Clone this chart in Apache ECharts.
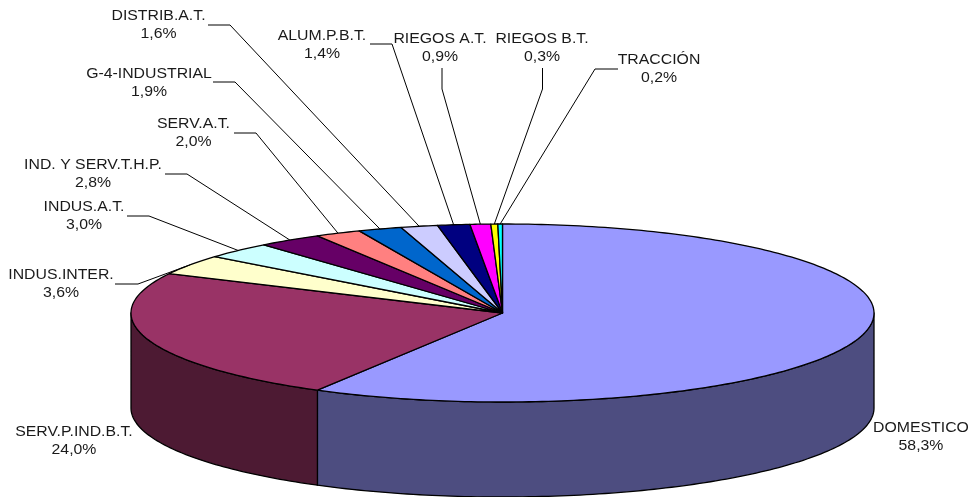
<!DOCTYPE html>
<html><head><meta charset="utf-8">
<style>html,body{margin:0;padding:0;background:#fff}#c{width:972px;height:497px}</style>
<script src="https://cdn.jsdelivr.net/npm/echarts@6/dist/echarts.min.js"></script>
</head><body><div id="c"></div>
<script>
const categories = ['DOMESTICO','SERV.P.IND.B.T.','INDUS.INTER.','INDUS.A.T.','IND. Y SERV.T.H.P.','SERV.A.T.','G-4-INDUSTRIAL','DISTRIB.A.T.','ALUM.P.B.T.','RIEGOS A.T.','RIEGOS B.T.','TRACCIÓN'];
const shares = [58.3,24.0,3.6,3.0,2.8,2.0,1.9,1.6,1.4,0.9,0.3,0.2];
const topColors = ['#9999FF','#993366','#FFFFCC','#CCFFFF','#660066','#FF8080','#0066CC','#CCCCFF','#000080','#FF00FF','#FFFF00','#00FFFF'];
const sideColors = ['#4D4D80','#4D1A33','#80806A','#6A8080','#330033','#804040','#003366','#6A6A80','#000040','#800080','#808000','#008080'];
// label centre [x,y of the two-line block], and the elbow polyline of the leader (null = none)
const labelLayout = [
  {x:921,y:437,leader:null},
  {x:74,y:441,leader:null},
  {x:61,y:284,leader:[[115,284],[138,284]]},
  {x:84,y:216,leader:[[127,216],[149,216]]},
  {x:93,y:174,leader:[[165,174],[187,174]]},
  {x:193.5,y:133.5,leader:[[234,133],[256,133]]},
  {x:149,y:83,leader:[[213,82],[235,82]]},
  {x:158.5,y:25.5,leader:[[208,25],[230,25]]},
  {x:322,y:45,leader:[[370,44],[392,44]]},
  {x:440,y:48,leader:[[442,68],[442,89]]},
  {x:542,y:48,leader:[[542.5,68],[542.5,89]]},
  {x:659,y:69,leader:[[618,69],[595,69]]}
];
const pie = {cx:502.5, cy:313, rx:371.5, ry:89, depth:95};
const total = shares.reduce((a,b)=>a+b,0);
const starts = []; shares.reduce((acc,v,i)=>{starts[i]=acc;return acc+v;},0);
const pt = (deg,dy)=>{const t=deg*Math.PI/180;return [pie.cx+pie.rx*Math.sin(t), pie.cy-pie.ry*Math.cos(t)+(dy||0)];};
const arc = (a,b,dy)=>{const n=Math.max(8,Math.ceil((b-a)));const r=[];for(let i=0;i<=n;i++)r.push(pt(a+(b-a)*i/n,dy));return r;};

function renderItem(params, api){
  const i = params.dataIndex, v = api.value(0);
  const a = starts[i]/total*360, b = a+v/total*360, mid=(a+b)/2;
  const ch = [];
  const lo=Math.max(a,90), hi=Math.min(b,270);
  const edge={stroke:'#000',lineWidth:1.3,lineJoin:'round'};
  if(hi>lo){
    ch.push({type:'polygon',z2:1,shape:{points:arc(lo,hi,0).concat(arc(lo,hi,pie.depth).reverse())},
      style:Object.assign({fill:sideColors[i]},edge)});
  }
  ch.push({type:'polygon',z2:2,shape:{points:[[pie.cx,pie.cy]].concat(arc(a,b,0))},
    style:Object.assign({fill:topColors[i]},edge)});
  const L = labelLayout[i];
  if(L.leader){
    ch.push({type:'polyline',z2:3,shape:{points:L.leader.concat([pt(mid,0)])},
      style:{fill:null,stroke:'#000',lineWidth:1}});
  }
  ch.push({type:'text',z2:4,x:L.x,y:L.y,scaleX:1.13,
    style:{x:0,y:0,text:categories[i]+'\n'+v.toFixed(1).replace('.',',')+'%',
      fontFamily:'Liberation Sans, Arial, sans-serif',fontSize:14,lineHeight:18,
      fill:'#1a1a1a',align:'center',verticalAlign:'middle'}});
  return {type:'group',children:ch};
}
const chart = echarts.init(document.getElementById('c'),null,{renderer:'canvas'});
chart.setOption({
  animation:false,backgroundColor:'#fff',
  series:[{type:'custom',coordinateSystem:'none',silent:true,renderItem,
    data:shares.map((v,i)=>({name:categories[i],value:[v]}))}]
});
</script></body></html>
